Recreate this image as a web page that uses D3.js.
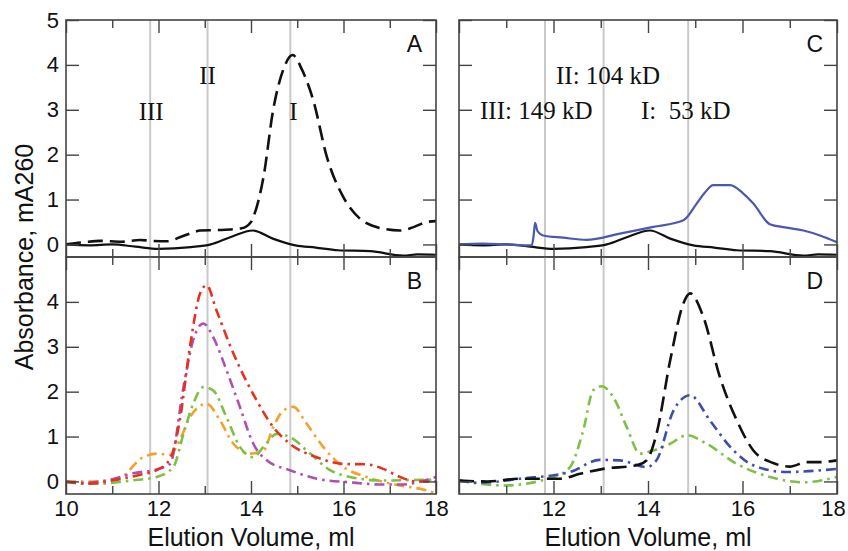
<!DOCTYPE html>
<html lang="en">
<head>
<meta charset="utf-8">
<title>Elution profiles</title>
<script src="https://cdn.jsdelivr.net/npm/d3@7"></script>
<style>
  body { margin: 0; background: #fff; }
  svg text { font-family: Arial, "Liberation Sans", sans-serif; fill: #111; }
  .roman { font-family: "Times New Roman", "Liberation Serif", serif; }
</style>
</head>
<body>
<script>

// ---- data (elution volume in ml, absorbance mA260) ----
var markerVols = [11.82, 13.06, 14.85];   // III, II, I

var volA_dash = [10.0, 10.4, 10.74, 11.2, 11.6, 11.86, 12.2, 12.46, 12.7, 12.9, 13.3, 13.8, 14.0, 14.05, 14.27, 14.48, 14.7, 14.9, 15.1, 15.35, 15.64, 16.0, 16.36, 16.86, 17.22, 17.5, 17.8, 18.0];
var absA_dash = [0.0, 0.05, 0.08, 0.06, 0.1, 0.08, 0.07, 0.16, 0.25, 0.31, 0.32, 0.36, 0.5, 0.61, 1.5, 3.0, 3.9, 4.22, 3.9, 3.2, 1.95, 1.05, 0.57, 0.35, 0.31, 0.38, 0.5, 0.52];

var volA_solid = [10.0, 10.5, 11.0, 11.5, 12.0, 12.7, 13.13, 13.55, 14.04, 14.47, 14.96, 15.4, 15.88, 16.58, 17.29, 17.6, 18.0];
var absA_solid = [0.0, -0.02, 0.0, -0.05, -0.1, -0.06, 0.0, 0.16, 0.31, 0.13, -0.02, -0.07, -0.13, -0.15, -0.25, -0.22, -0.23];

var volC_blue = [10.0, 10.5, 11.0, 11.54, 11.58, 11.61, 11.66, 11.78, 12.2, 12.7, 13.4, 14.11, 14.75, 15.03, 15.2, 15.38, 15.74, 16.0, 16.23, 16.58, 16.9, 17.29, 17.64, 18.0];
var absC_blue = [0.0, 0.02, 0.0, -0.02, 0.2, 0.48, 0.3, 0.2, 0.15, 0.1, 0.24, 0.39, 0.54, 0.91, 1.15, 1.32, 1.32, 1.15, 0.91, 0.45, 0.38, 0.31, 0.2, 0.05];

var volB_red = [10.0, 10.45, 11.1, 11.6, 11.96, 12.25, 12.46, 12.68, 12.9, 13.04, 13.25, 13.62, 14.12, 14.48, 14.84, 15.42, 16.0, 16.5, 16.86, 17.22, 17.58, 18.0];
var absB_red = [0.0, -0.05, 0.04, 0.15, 0.25, 0.5, 1.36, 3.0, 4.19, 4.37, 3.82, 2.85, 1.81, 1.21, 0.84, 0.54, 0.39, 0.38, 0.28, 0.1, 0.0, 0.0];

var volB_magenta = [10.0, 10.45, 11.0, 11.45, 12.0, 12.25, 12.54, 12.75, 12.97, 13.18, 13.47, 13.76, 14.05, 14.34, 14.84, 15.42, 16.14, 16.86, 17.22, 18.0];
var absB_magenta = [0.0, -0.03, 0.05, 0.18, 0.28, 0.39, 2.1, 3.15, 3.52, 3.22, 2.48, 1.66, 0.84, 0.47, 0.25, 0.06, -0.02, -0.07, -0.07, 0.1];

var volB_green = [10.0, 10.72, 11.4, 11.96, 12.32, 12.54, 12.75, 12.97, 13.18, 13.47, 13.76, 14.05, 14.27, 14.56, 14.84, 15.28, 15.71, 16.14, 16.86, 17.5, 18.0];
var absB_green = [-0.02, -0.05, 0.02, 0.1, 0.32, 1.06, 1.73, 2.1, 2.03, 1.43, 0.77, 0.54, 0.77, 1.06, 0.99, 0.62, 0.25, 0.1, 0.02, 0.03, 0.04];

var volB_orange = [10.0, 10.6, 11.1, 11.67, 11.96, 12.25, 12.46, 12.68, 13.04, 13.33, 13.62, 13.98, 14.27, 14.48, 14.7, 14.91, 15.2, 15.56, 16.0, 16.5, 17.22, 17.8, 18.0];
var absB_orange = [0.0, 0.0, 0.04, 0.54, 0.62, 0.59, 0.92, 1.43, 1.73, 1.36, 0.84, 0.62, 0.69, 1.21, 1.58, 1.66, 1.29, 0.77, 0.32, 0.1, -0.09, -0.2, -0.27];

var volD_black = [10.0, 10.6, 11.29, 12.14, 12.56, 13.05, 13.76, 13.97, 14.18, 14.47, 14.75, 14.89, 15.17, 15.52, 15.88, 16.23, 16.65, 17.0, 17.36, 17.64, 18.0];
var absD_black = [0.02, 0.0, 0.06, 0.06, 0.17, 0.28, 0.36, 0.47, 1.06, 2.7, 3.97, 4.19, 3.67, 2.33, 1.36, 0.69, 0.41, 0.33, 0.43, 0.43, 0.47];

var volD_blue = [10.0, 10.42, 11.29, 12.35, 12.98, 13.4, 13.97, 14.18, 14.54, 14.89, 15.31, 15.74, 16.23, 16.93, 18.0];
var absD_blue = [0.02, -0.03, 0.06, 0.21, 0.48, 0.47, 0.32, 0.47, 1.58, 1.92, 1.36, 0.77, 0.36, 0.21, 0.28];

var volD_green = [10.0, 10.94, 12.0, 12.35, 12.63, 12.84, 13.02, 13.27, 13.55, 13.83, 14.11, 14.47, 14.82, 15.24, 15.88, 16.58, 17.29, 18.0];
var absD_green = [0.02, -0.09, 0.1, 0.32, 1.14, 2.03, 2.12, 1.87, 1.21, 0.62, 0.69, 0.84, 1.03, 0.84, 0.39, 0.1, -0.02, 0.1];

var yTicksTop = [0, 1, 2, 3, 4, 5];
var yTicksBottom = [0, 1, 2, 3, 4];
var xLabelsLeft = [10, 12, 14, 16, 18];
var xLabelsRight = [12, 14, 16, 18];

// ---- layout ----
var W = 848, H = 551;
var cols = [[66, 436], [459, 837]];
var rows = [[20, 257], [257, 494]];
var yDomain = [-0.28, 5.0];

var DASH = "15,7", DASHDOT = "10,5,2.5,5";

function zip(xs, ys) { return xs.map(function(v, i) { return [v, ys[i]]; }); }

var panels = [
  { id: "A", col: 0, row: 0, series: [
      { pts: zip(volA_solid, absA_solid), color: "#111", dash: null, w: 2.2 },
      { pts: zip(volA_dash, absA_dash), color: "#111", dash: DASH, w: 2.6 } ] },
  { id: "B", col: 0, row: 1, series: [
      { pts: zip(volB_orange, absB_orange), color: "#f3a12b", dash: DASHDOT, w: 2.6 },
      { pts: zip(volB_green, absB_green), color: "#7cc146", dash: DASHDOT, w: 2.6 },
      { pts: zip(volB_magenta, absB_magenta), color: "#b14fb0", dash: DASHDOT, w: 2.6 },
      { pts: zip(volB_red, absB_red), color: "#e5321e", dash: DASHDOT, w: 2.6 } ] },
  { id: "C", col: 1, row: 0, series: [
      { pts: zip(volA_solid, absA_solid), color: "#111", dash: null, w: 2.2 },
      { pts: zip(volC_blue, absC_blue), color: "#4a58b0", dash: null, w: 2.2 } ] },
  { id: "D", col: 1, row: 1, series: [
      { pts: zip(volD_green, absD_green), color: "#7cc146", dash: DASHDOT, w: 2.6 },
      { pts: zip(volD_blue, absD_blue), color: "#3c4fae", dash: DASHDOT, w: 2.6 },
      { pts: zip(volD_black, absD_black), color: "#111", dash: DASH, w: 2.6 } ] }
];

var svg = d3.select("body").append("svg")
    .attr("width", W)
    .attr("height", H);

var defs = svg.append("defs");

panels.forEach(function(p) {
  var x0 = cols[p.col][0], x1 = cols[p.col][1];
  var y0 = rows[p.row][0], y1 = rows[p.row][1];
  var x = d3.scaleLinear().domain([10, 18]).range([x0, x1]);
  var y = d3.scaleLinear().domain(yDomain).range([y1, y0]);

  defs.append("clipPath").attr("id", "clip" + p.id)
    .append("rect").attr("x", x0).attr("y", y0).attr("width", x1 - x0).attr("height", y1 - y0);

  var g = svg.append("g");

  // marker lines
  g.selectAll("line.mk").data(markerVols).enter().append("line")
    .attr("x1", function(d) { return x(d); }).attr("x2", function(d) { return x(d); })
    .attr("y1", y0).attr("y2", y1)
    .attr("stroke", "#c9c9c9").attr("stroke-width", 2);

  // traces
  var line = d3.line()
    .x(function(d) { return x(d[0]); })
    .y(function(d) { return y(d[1]); })
    .curve(d3.curveMonotoneX);

  g.append("g").attr("clip-path", "url(#clip" + p.id + ")")
    .selectAll("path").data(p.series).enter().append("path")
    .attr("d", function(s) { return line(s.pts); })
    .attr("fill", "none")
    .attr("stroke", function(s) { return s.color; })
    .attr("stroke-width", function(s) { return s.w; })
    .attr("stroke-dasharray", function(s) { return s.dash; })
    .attr("stroke-linejoin", "round");

  // ticks, all pointing inward
  var intTicks = d3.range(10, 19);
  var majorX = intTicks.filter(function(v) { return v % 2 === 0; });
  var minorX = intTicks.filter(function(v) { return v % 2 === 1; });
  var yt = p.row === 0 ? yTicksTop : yTicksBottom;

  function styleAxis(sel) {
    sel.select(".domain").remove();
    sel.selectAll(".tick line").attr("stroke", "#444").attr("stroke-width", 1.4);
    sel.selectAll("text").style("font-size", "22px").attr("fill", "#111");
  }

  // bottom
  var xLabels = p.row === 1 ? (p.col === 0 ? xLabelsLeft : xLabelsRight) : [];
  var bx = g.append("g").attr("transform", "translate(0," + y1 + ")")
    .call(d3.axisBottom(x).tickValues(majorX).tickSize(-13).tickPadding(6)
      .tickFormat(function(d) { return xLabels.indexOf(d) >= 0 ? d : ""; }))
    .call(styleAxis);
  if (p.col === 1) {
    // last label sits at the window edge
    bx.selectAll("text").filter(function(d) { return d === 18; }).attr("dx", -4);
  }
  g.append("g").attr("transform", "translate(0," + y1 + ")")
    .call(d3.axisBottom(x).tickValues(minorX).tickSize(-8).tickFormat(""))
    .call(styleAxis);
  // top
  g.append("g").attr("transform", "translate(0," + y0 + ")")
    .call(d3.axisTop(x).tickValues(majorX).tickSize(-13).tickFormat(""))
    .call(styleAxis);
  g.append("g").attr("transform", "translate(0," + y0 + ")")
    .call(d3.axisTop(x).tickValues(minorX).tickSize(-8).tickFormat(""))
    .call(styleAxis);
  // left
  g.append("g").attr("transform", "translate(" + x0 + ",0)")
    .call(d3.axisLeft(y).tickValues(yt).tickSize(-13).tickPadding(7)
      .tickFormat(function(d) { return p.col === 0 ? d : ""; }))
    .call(styleAxis);
  // right
  g.append("g").attr("transform", "translate(" + x1 + ",0)")
    .call(d3.axisRight(y).tickValues(yt).tickSize(-13).tickFormat(""))
    .call(styleAxis);

  // frame
  g.append("rect")
    .attr("x", x0).attr("y", y0).attr("width", x1 - x0).attr("height", y1 - y0)
    .attr("fill", "none").attr("stroke", "#444").attr("stroke-width", 1.6);

  // panel letter
  g.append("text")
    .attr("x", x1 - 14).attr("y", y0 + 32)
    .attr("text-anchor", "end")
    .style("font-size", "23px")
    .text(p.id);

  if (p.id === "A") {
    var romans = ["III", "II", "I"];
    var romanY = [120, 84, 120];
    var romanDx = [1, 0, 3];
    g.selectAll("text.roman").data(markerVols).enter().append("text")
      .attr("class", "roman")
      .attr("x", function(d, i) { return x(d) + romanDx[i]; })
      .attr("y", function(d, i) { return romanY[i]; })
      .attr("text-anchor", "middle")
      .style("font-size", "25px")
      .text(function(d, i) { return romans[i]; });
  }
  if (p.id === "C") {
    var mw = [["III: 149 kD", 480, 119], ["II: 104 kD", 556, 84], ["I:  53 kD", 641, 119]];
    g.selectAll("text.roman").data(mw).enter().append("text")
      .attr("class", "roman")
      .attr("x", function(d) { return d[1]; })
      .attr("y", function(d) { return d[2]; })
      .style("font-size", "25px")
      .style("white-space", "pre")
      .attr("xml:space", "preserve")
      .text(function(d) { return d[0]; });
  }
  if (p.row === 1) {
    g.append("text")
      .attr("x", (x0 + x1) / 2).attr("y", 546)
      .attr("text-anchor", "middle")
      .style("font-size", "25px")
      .text("Elution Volume, ml");
  }
});

svg.append("text")
  .attr("transform", "translate(33,257) rotate(-90)")
  .attr("text-anchor", "middle")
  .style("font-size", "25px")
  .text("Absorbance, mA260");

</script>
</body>
</html>
